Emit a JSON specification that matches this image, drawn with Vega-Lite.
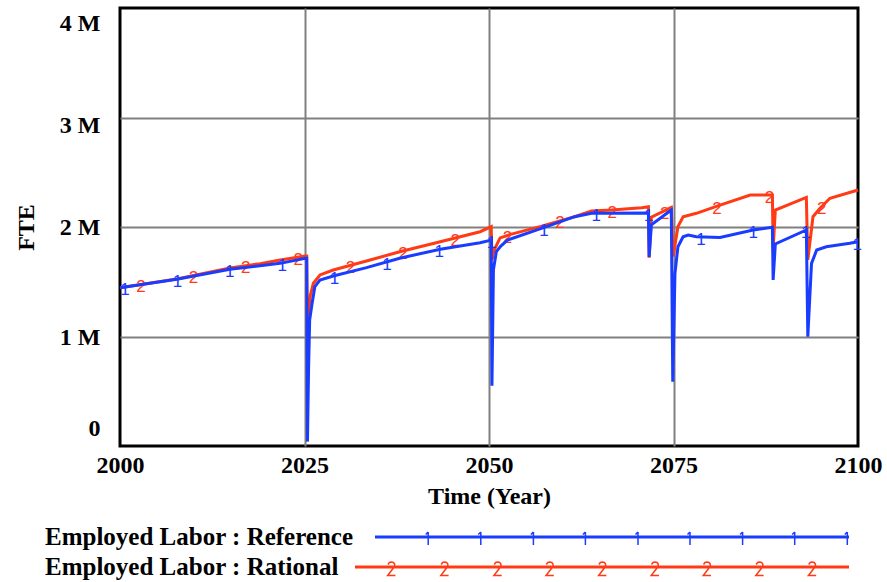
{
  "$schema": "https://vega.github.io/schema/vega-lite/v6.json",
  "width": 738,
  "height": 438,
  "autosize": {"type": "none"},
  "padding": {"left": 120, "top": 8, "right": 29, "bottom": 136},
  "background": "white",
  "config": {
    "view": {"stroke": "black", "strokeWidth": 3},
    "font": "Liberation Serif",
    "axis": {
      "labelFont": "Liberation Serif",
      "labelFontSize": 24,
      "labelFontWeight": "bold",
      "labelColor": "black",
      "titleFont": "Liberation Serif",
      "titleFontSize": 24,
      "titleFontWeight": "bold",
      "titleColor": "black",
      "domain": false,
      "ticks": false,
      "tickSize": 0,
      "gridColor": "#808080",
      "gridWidth": 2
    }
  },
  "datasets": {
    "lines": [
      {"t": 2000.0, "s": "Employed Labor : Reference", "v": 1446000},
      {"t": 2007.7, "s": "Employed Labor : Reference", "v": 1522000},
      {"t": 2014.9, "s": "Employed Labor : Reference", "v": 1614000},
      {"t": 2021.7, "s": "Employed Labor : Reference", "v": 1668000},
      {"t": 2025.1, "s": "Employed Labor : Reference", "v": 1714000},
      {"t": 2025.3, "s": "Employed Labor : Reference", "v": 1714000},
      {"t": 2025.4, "s": "Employed Labor : Reference", "v": 40000},
      {"t": 2025.55, "s": "Employed Labor : Reference", "v": 700000},
      {"t": 2025.7, "s": "Employed Labor : Reference", "v": 1150000},
      {"t": 2026.0, "s": "Employed Labor : Reference", "v": 1290000},
      {"t": 2026.4, "s": "Employed Labor : Reference", "v": 1455000},
      {"t": 2027.1, "s": "Employed Labor : Reference", "v": 1516000},
      {"t": 2028.9, "s": "Employed Labor : Reference", "v": 1553000},
      {"t": 2033.4, "s": "Employed Labor : Reference", "v": 1629000},
      {"t": 2037.9, "s": "Employed Labor : Reference", "v": 1715000},
      {"t": 2043.4, "s": "Employed Labor : Reference", "v": 1797000},
      {"t": 2048.8, "s": "Employed Labor : Reference", "v": 1857000},
      {"t": 2050.3, "s": "Employed Labor : Reference", "v": 1880000},
      {"t": 2050.4, "s": "Employed Labor : Reference", "v": 550000},
      {"t": 2050.6, "s": "Employed Labor : Reference", "v": 1610000},
      {"t": 2051.0, "s": "Employed Labor : Reference", "v": 1776000},
      {"t": 2051.6, "s": "Employed Labor : Reference", "v": 1826000},
      {"t": 2052.5, "s": "Employed Labor : Reference", "v": 1880000},
      {"t": 2057.2, "s": "Employed Labor : Reference", "v": 1990000},
      {"t": 2061.6, "s": "Employed Labor : Reference", "v": 2094000},
      {"t": 2063.9, "s": "Employed Labor : Reference", "v": 2125000},
      {"t": 2071.6, "s": "Employed Labor : Reference", "v": 2128000},
      {"t": 2071.7, "s": "Employed Labor : Reference", "v": 1726000},
      {"t": 2072.0, "s": "Employed Labor : Reference", "v": 2020000},
      {"t": 2074.7, "s": "Employed Labor : Reference", "v": 2155000},
      {"t": 2074.9, "s": "Employed Labor : Reference", "v": 587000},
      {"t": 2075.2, "s": "Employed Labor : Reference", "v": 1577000},
      {"t": 2075.6, "s": "Employed Labor : Reference", "v": 1820000},
      {"t": 2076.3, "s": "Employed Labor : Reference", "v": 1911000},
      {"t": 2077.0, "s": "Employed Labor : Reference", "v": 1927000},
      {"t": 2078.1, "s": "Employed Labor : Reference", "v": 1911000},
      {"t": 2081.3, "s": "Employed Labor : Reference", "v": 1904000},
      {"t": 2085.8, "s": "Employed Labor : Reference", "v": 1973000},
      {"t": 2088.4, "s": "Employed Labor : Reference", "v": 1997000},
      {"t": 2088.5, "s": "Employed Labor : Reference", "v": 1516000},
      {"t": 2088.8, "s": "Employed Labor : Reference", "v": 1845000},
      {"t": 2093.0, "s": "Employed Labor : Reference", "v": 1973000},
      {"t": 2093.2, "s": "Employed Labor : Reference", "v": 998000},
      {"t": 2093.7, "s": "Employed Labor : Reference", "v": 1668000},
      {"t": 2094.4, "s": "Employed Labor : Reference", "v": 1790000},
      {"t": 2095.7, "s": "Employed Labor : Reference", "v": 1820000},
      {"t": 2098.9, "s": "Employed Labor : Reference", "v": 1851000},
      {"t": 2100.0, "s": "Employed Labor : Reference", "v": 1866000},
      {"t": 2000.0, "s": "Employed Labor : Rational", "v": 1446000},
      {"t": 2007.7, "s": "Employed Labor : Rational", "v": 1525000},
      {"t": 2014.9, "s": "Employed Labor : Rational", "v": 1625000},
      {"t": 2019.0, "s": "Employed Labor : Rational", "v": 1665000},
      {"t": 2021.7, "s": "Employed Labor : Rational", "v": 1699000},
      {"t": 2025.1, "s": "Employed Labor : Rational", "v": 1735000},
      {"t": 2025.3, "s": "Employed Labor : Rational", "v": 1735000},
      {"t": 2025.4, "s": "Employed Labor : Rational", "v": 1000000},
      {"t": 2025.6, "s": "Employed Labor : Rational", "v": 1250000},
      {"t": 2025.8, "s": "Employed Labor : Rational", "v": 1380000},
      {"t": 2026.2, "s": "Employed Labor : Rational", "v": 1486000},
      {"t": 2027.1, "s": "Employed Labor : Rational", "v": 1562000},
      {"t": 2028.9, "s": "Employed Labor : Rational", "v": 1607000},
      {"t": 2033.4, "s": "Employed Labor : Rational", "v": 1689000},
      {"t": 2037.9, "s": "Employed Labor : Rational", "v": 1774000},
      {"t": 2043.4, "s": "Employed Labor : Rational", "v": 1866000},
      {"t": 2048.8, "s": "Employed Labor : Rational", "v": 1957000},
      {"t": 2050.3, "s": "Employed Labor : Rational", "v": 2003000},
      {"t": 2050.4, "s": "Employed Labor : Rational", "v": 1700000},
      {"t": 2050.7, "s": "Employed Labor : Rational", "v": 1790000},
      {"t": 2051.5, "s": "Employed Labor : Rational", "v": 1900000},
      {"t": 2052.8, "s": "Employed Labor : Rational", "v": 1930000},
      {"t": 2056.9, "s": "Employed Labor : Rational", "v": 2003000},
      {"t": 2061.6, "s": "Employed Labor : Rational", "v": 2094000},
      {"t": 2063.9, "s": "Employed Labor : Rational", "v": 2146000},
      {"t": 2066.6, "s": "Employed Labor : Rational", "v": 2155000},
      {"t": 2070.7, "s": "Employed Labor : Rational", "v": 2176000},
      {"t": 2071.6, "s": "Employed Labor : Rational", "v": 2185000},
      {"t": 2071.7, "s": "Employed Labor : Rational", "v": 1720000},
      {"t": 2072.0, "s": "Employed Labor : Rational", "v": 2090000},
      {"t": 2074.7, "s": "Employed Labor : Rational", "v": 2180000},
      {"t": 2074.95, "s": "Employed Labor : Rational", "v": 1730000},
      {"t": 2075.6, "s": "Employed Labor : Rational", "v": 2003000},
      {"t": 2076.3, "s": "Employed Labor : Rational", "v": 2094000},
      {"t": 2078.1, "s": "Employed Labor : Rational", "v": 2125000},
      {"t": 2081.3, "s": "Employed Labor : Rational", "v": 2200000},
      {"t": 2085.4, "s": "Employed Labor : Rational", "v": 2292000},
      {"t": 2088.4, "s": "Employed Labor : Rational", "v": 2292000},
      {"t": 2088.5, "s": "Employed Labor : Rational", "v": 1800000},
      {"t": 2088.8, "s": "Employed Labor : Rational", "v": 2155000},
      {"t": 2093.0, "s": "Employed Labor : Rational", "v": 2270000},
      {"t": 2093.2, "s": "Employed Labor : Rational", "v": 1700000},
      {"t": 2093.9, "s": "Employed Labor : Rational", "v": 2094000},
      {"t": 2094.85, "s": "Employed Labor : Rational", "v": 2171000},
      {"t": 2096.2, "s": "Employed Labor : Rational", "v": 2262000},
      {"t": 2100.0, "s": "Employed Labor : Rational", "v": 2338000}
    ],
    "marks": [
      {"t": 2000.68, "s": "Employed Labor : Reference", "v": 1453000, "m": "1"},
      {"t": 2007.78, "s": "Employed Labor : Reference", "v": 1523000, "m": "1"},
      {"t": 2014.87, "s": "Employed Labor : Reference", "v": 1613000, "m": "1"},
      {"t": 2021.97, "s": "Employed Labor : Reference", "v": 1670000, "m": "1"},
      {"t": 2029.06, "s": "Employed Labor : Reference", "v": 1556000, "m": "1"},
      {"t": 2036.16, "s": "Employed Labor : Reference", "v": 1680000, "m": "1"},
      {"t": 2043.25, "s": "Employed Labor : Reference", "v": 1795000, "m": "1"},
      {"t": 2050.35, "s": "Employed Labor : Reference", "v": 1880000, "m": "1"},
      {"t": 2057.44, "s": "Employed Labor : Reference", "v": 1990000, "m": "1"},
      {"t": 2064.54, "s": "Employed Labor : Reference", "v": 2127000, "m": "1"},
      {"t": 2071.63, "s": "Employed Labor : Reference", "v": 2128000, "m": "1"},
      {"t": 2078.73, "s": "Employed Labor : Reference", "v": 1910000, "m": "1"},
      {"t": 2085.82, "s": "Employed Labor : Reference", "v": 1973000, "m": "1"},
      {"t": 2092.92, "s": "Employed Labor : Reference", "v": 1970000, "m": "1"},
      {"t": 2099.9, "s": "Employed Labor : Reference", "v": 1866000, "m": "1"},
      {"t": 2002.85, "s": "Employed Labor : Rational", "v": 1475000, "m": "2"},
      {"t": 2009.95, "s": "Employed Labor : Rational", "v": 1560000, "m": "2"},
      {"t": 2017.04, "s": "Employed Labor : Rational", "v": 1650000, "m": "2"},
      {"t": 2024.14, "s": "Employed Labor : Rational", "v": 1725000, "m": "2"},
      {"t": 2031.23, "s": "Employed Labor : Rational", "v": 1655000, "m": "2"},
      {"t": 2038.33, "s": "Employed Labor : Rational", "v": 1780000, "m": "2"},
      {"t": 2045.42, "s": "Employed Labor : Rational", "v": 1900000, "m": "2"},
      {"t": 2052.52, "s": "Employed Labor : Rational", "v": 1925000, "m": "2"},
      {"t": 2059.61, "s": "Employed Labor : Rational", "v": 2060000, "m": "2"},
      {"t": 2066.71, "s": "Employed Labor : Rational", "v": 2155000, "m": "2"},
      {"t": 2073.8, "s": "Employed Labor : Rational", "v": 2150000, "m": "2"},
      {"t": 2080.9, "s": "Employed Labor : Rational", "v": 2190000, "m": "2"},
      {"t": 2087.99, "s": "Employed Labor : Rational", "v": 2292000, "m": "2"},
      {"t": 2095.09, "s": "Employed Labor : Rational", "v": 2190000, "m": "2"}
    ]
  },
  "encoding": {
    "x": {
      "field": "t",
      "type": "quantitative",
      "scale": {"domain": [2000, 2100], "nice": false, "zero": false},
      "axis": {
        "values": [2000, 2025, 2050, 2075, 2100],
        "format": "d",
        "title": "Time (Year)",
        "grid": true,
        "gridOpacity": {"condition": {"test": "datum.value == 2000 || datum.value == 2100", "value": 0}, "value": 1},
        "labelPadding": 7,
        "labelFlush": false,
        "labelOverlap": false,
        "titleY": 50,
        "titleBaseline": "middle"
      }
    },
    "y": {
      "field": "v",
      "type": "quantitative",
      "scale": {"domain": [0, 4000000], "nice": false},
      "axis": {
        "values": [0, 1000000, 2000000, 3000000, 4000000],
        "labelExpr": "datum.value == 0 ? '0' : (datum.value / 1000000) + ' M'",
        "title": "FTE",
        "grid": true,
        "gridOpacity": {"condition": {"test": "datum.value == 0 || datum.value == 4000000", "value": 0}, "value": 1},
        "labelPadding": 20,
        "labelFlush": false,
        "labelOverlap": false,
        "labelOffset": {
          "condition": [
            {"test": "datum.value == 4000000", "value": 15},
            {"test": "datum.value == 3000000", "value": 8},
            {"test": "datum.value == 1000000", "value": 1},
            {"test": "datum.value == 0", "value": -18}
          ],
          "value": 0
        },
        "titleX": -94,
        "titleY": 219,
        "titleAngle": -90,
        "titleAlign": "center",
        "titleBaseline": "middle"
      }
    },
    "color": {
      "field": "s",
      "type": "nominal",
      "scale": {
        "domain": ["Employed Labor : Reference", "Employed Labor : Rational"],
        "range": ["#1a3cff", "#ff3a14"]
      },
      "legend": {
        "orient": "none",
        "legendX": -75,
        "legendY": 516.5,
        "title": null,
        "direction": "vertical",
        "symbolType": "stroke",
        "symbolSize": 4,
        "symbolStrokeWidth": 1.5,
        "symbolOpacity": 1,
        "symbolOffset": 554.5,
        "symbolFillColor": "transparent",
        "labelOffset": -579.5,
        "labelAlign": "left",
        "labelBaseline": "middle",
        "labelFont": "Liberation Serif",
        "labelFontSize": 25,
        "labelFontWeight": "bold",
        "labelColor": "black",
        "labelLimit": 600,
        "padding": 0,
        "rowPadding": 4,
        "encode": {
          "symbols": {
            "update": {
              "fill": {"value": "transparent"},
              "shape": {
                "signal": "datum.value === 'Employed Labor : Reference' ? 'M-237,-0.75H237M-237,0.75H237M-183.8,-5V8M-183.8,-5L-186.3,-2.5M-131.2,-5V8M-131.2,-5L-133.7,-2.5M-78.6,-5V8M-78.6,-5L-81.1,-2.5M-26.6,-5V8M-26.6,-5L-29.1,-2.5M26,-5V8M26,-5L23.5,-2.5M78,-5V8M78,-5L75.5,-2.5M130.6,-5V8M130.6,-5L128.1,-2.5M182.7,-5V8M182.7,-5L180.2,-2.5M235.3,-5V8M235.3,-5L232.8,-2.5' : 'M-257,-0.75H237M-257,0.75H237M-224.1,-2.5L-222.6,-4.5L-220.6,-5L-218.6,-4.5L-217.4,-3L-217.4,-1L-218.6,1L-224.4,8.5L-216.6,8.5L-224.4,8.5L-218.6,1L-217.4,-1L-217.4,-3L-218.6,-4.5L-220.6,-5L-222.6,-4.5L-224.1,-2.5M-170.9,-2.5L-169.4,-4.5L-167.4,-5L-165.4,-4.5L-164.2,-3L-164.2,-1L-165.4,1L-171.2,8.5L-163.4,8.5L-171.2,8.5L-165.4,1L-164.2,-1L-164.2,-3L-165.4,-4.5L-167.4,-5L-169.4,-4.5L-170.9,-2.5M-117.8,-2.5L-116.3,-4.5L-114.3,-5L-112.3,-4.5L-111.1,-3L-111.1,-1L-112.3,1L-118.1,8.5L-110.3,8.5L-118.1,8.5L-112.3,1L-111.1,-1L-111.1,-3L-112.3,-4.5L-114.3,-5L-116.3,-4.5L-117.8,-2.5M-65.7,-2.5L-64.2,-4.5L-62.2,-5L-60.2,-4.5L-59,-3L-59,-1L-60.2,1L-66,8.5L-58.2,8.5L-66,8.5L-60.2,1L-59,-1L-59,-3L-60.2,-4.5L-62.2,-5L-64.2,-4.5L-65.7,-2.5M-13.1,-2.5L-11.6,-4.5L-9.6,-5L-7.6,-4.5L-6.4,-3L-6.4,-1L-7.6,1L-13.4,8.5L-5.6,8.5L-13.4,8.5L-7.6,1L-6.4,-1L-6.4,-3L-7.6,-4.5L-9.6,-5L-11.6,-4.5L-13.1,-2.5M39.5,-2.5L41,-4.5L43,-5L45,-4.5L46.2,-3L46.2,-1L45,1L39.2,8.5L47,8.5L39.2,8.5L45,1L46.2,-1L46.2,-3L45,-4.5L43,-5L41,-4.5L39.5,-2.5M91.5,-2.5L93,-4.5L95,-5L97,-4.5L98.2,-3L98.2,-1L97,1L91.2,8.5L99,8.5L91.2,8.5L97,1L98.2,-1L98.2,-3L97,-4.5L95,-5L93,-4.5L91.5,-2.5M144.1,-2.5L145.6,-4.5L147.6,-5L149.6,-4.5L150.8,-3L150.8,-1L149.6,1L143.8,8.5L151.6,8.5L143.8,8.5L149.6,1L150.8,-1L150.8,-3L149.6,-4.5L147.6,-5L145.6,-4.5L144.1,-2.5M196.7,-2.5L198.2,-4.5L200.2,-5L202.2,-4.5L203.4,-3L203.4,-1L202.2,1L196.4,8.5L204.2,8.5L196.4,8.5L202.2,1L203.4,-1L203.4,-3L202.2,-4.5L200.2,-5L198.2,-4.5L196.7,-2.5'"
              }
            }
          }
        }
      }
    }
  },
  "layer": [
    {
      "data": {"name": "lines"},
      "transform": [{"filter": "datum.s === 'Employed Labor : Rational'"}],
      "mark": {"type": "line", "strokeWidth": 3}
    },
    {
      "data": {"name": "marks"},
      "transform": [{"filter": "datum.s === 'Employed Labor : Rational'"}],
      "mark": {"type": "text", "font": "Liberation Sans", "fontSize": 17, "baseline": "middle", "dy": 3},
      "encoding": {
        "text": {"field": "m"},
        "color": {"field": "s", "type": "nominal", "legend": null}
      }
    },
    {
      "data": {"name": "lines"},
      "transform": [{"filter": "datum.s === 'Employed Labor : Reference'"}],
      "mark": {"type": "line", "strokeWidth": 3}
    },
    {
      "data": {"name": "marks"},
      "transform": [{"filter": "datum.s === 'Employed Labor : Reference'"}],
      "mark": {"type": "text", "font": "Liberation Sans", "fontSize": 17, "baseline": "middle", "dy": 3},
      "encoding": {
        "text": {"field": "m"},
        "color": {"field": "s", "type": "nominal", "legend": null}
      }
    }
  ]
}
